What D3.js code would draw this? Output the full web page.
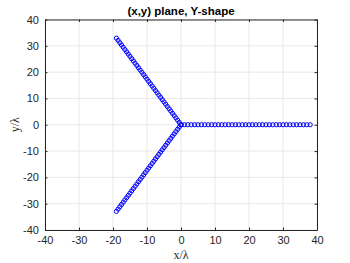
<!DOCTYPE html>
<html>
<head>
<meta charset="utf-8">
<script src="https://cdn.jsdelivr.net/npm/d3@7"></script>
<style>
  body { margin: 0; background: #fff; }
  svg { display: block; }
  text { font-family: "Liberation Sans", Arial, sans-serif; }
</style>
</head>
<body>
<svg id="chart" width="350" height="263"></svg>
<script>
// arm directions in degrees and distances of the markers along each arm (in lambda)
var armAngles = [0, 120, 240];
var armRadii = [0, 1, 2, 3, 4, 5, 6, 7, 8, 9, 10, 11, 12, 13, 14, 15, 16, 17, 18, 19,
                20, 21, 22, 23, 24, 25, 26, 27, 28, 29, 30, 31, 32, 33, 34, 35, 36, 37, 38];
var xTicks = [-40, -30, -20, -10, 0, 10, 20, 30, 40];
var yTicks = [-40, -30, -20, -10, 0, 10, 20, 30, 40];

var svg = d3.select('#chart');
var margin = { left: 45, right: 33, top: 19.5, bottom: 33 };
var W = 350, H = 263;

var x = d3.scaleLinear().domain([-40, 40]).range([margin.left, W - margin.right]);
var y = d3.scaleLinear().domain([-40, 40]).range([H - margin.bottom, margin.top]);

var points = [];
armAngles.forEach(function (a) {
    var t = a * Math.PI / 180;
    armRadii.forEach(function (r) {
        points.push({ x: r * Math.cos(t), y: r * Math.sin(t) });
    });
});

// grid
svg.append('g').selectAll('line').data(xTicks).enter().append('line')
    .attr('x1', function (d) { return x(d); }).attr('x2', function (d) { return x(d); })
    .attr('y1', y(-40)).attr('y2', y(40))
    .attr('stroke', '#e8e8e8').attr('stroke-width', 1);
svg.append('g').selectAll('line').data(yTicks).enter().append('line')
    .attr('y1', function (d) { return y(d); }).attr('y2', function (d) { return y(d); })
    .attr('x1', x(-40)).attr('x2', x(40))
    .attr('stroke', '#e8e8e8').attr('stroke-width', 1);

// markers
svg.append('g').selectAll('circle').data(points).enter().append('circle')
    .attr('cx', function (d) { return x(d.x); })
    .attr('cy', function (d) { return y(d.y); })
    .attr('r', 2.1)
    .attr('fill', 'none')
    .attr('stroke', '#0000ff')
    .attr('stroke-width', 1);

// axes (ticks pointing inward, MATLAB-like)
var axisColor = '#262626';
var fmt = function (d) { return String(d); };
function styleAxis(g) {
    g.select('.domain').attr('stroke', axisColor);
    g.selectAll('.tick line').attr('stroke', axisColor);
    g.selectAll('.tick text').attr('fill', axisColor)
        .style('font-family', '"Liberation Sans", Arial, sans-serif').style('font-size', '11px');
}

svg.append('g').attr('transform', 'translate(0,' + y(-40) + ')')
    .call(d3.axisBottom(x).tickValues(xTicks).tickFormat(fmt).tickSizeInner(-2.5).tickSizeOuter(0).tickPadding(6))
    .call(styleAxis);
svg.append('g').attr('transform', 'translate(' + x(-40) + ',0)')
    .call(d3.axisLeft(y).tickValues(yTicks).tickFormat(fmt).tickSizeInner(-2.5).tickSizeOuter(0).tickPadding(6))
    .call(styleAxis);
svg.append('g').attr('transform', 'translate(0,' + y(40) + ')')
    .call(d3.axisTop(x).tickValues(xTicks).tickSizeInner(-2.5).tickSizeOuter(0).tickFormat(''))
    .call(styleAxis);
svg.append('g').attr('transform', 'translate(' + x(40) + ',0)')
    .call(d3.axisRight(y).tickValues(yTicks).tickSizeInner(-2.5).tickSizeOuter(0).tickFormat(''))
    .call(styleAxis);

// title and labels
svg.append('text').attr('x', (x(-40) + x(40)) / 2).attr('y', 15)
    .attr('text-anchor', 'middle').style('font-size', '11.5px').style('font-weight', 'bold')
    .attr('fill', '#000').text('(x,y) plane, Y-shape');
svg.append('text').attr('x', (x(-40) + x(40)) / 2).attr('y', 259)
    .attr('text-anchor', 'middle').style('font-family', '"Liberation Serif", "Times New Roman", serif')
    .style('font-size', '12px').attr('fill', axisColor).text('x/λ');
svg.append('text').attr('transform', 'translate(19,' + y(0) + ') rotate(-90)')
    .attr('text-anchor', 'middle').style('font-family', '"Liberation Serif", "Times New Roman", serif')
    .style('font-size', '12px').attr('fill', axisColor).text('y/λ');
</script>
</body>
</html>
